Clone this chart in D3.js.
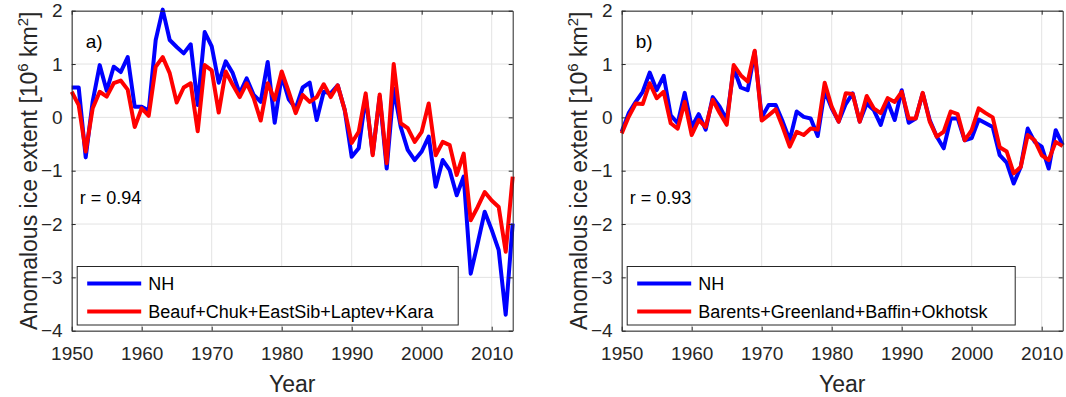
<!DOCTYPE html>
<html>
<head>
<meta charset="utf-8">
<script src="https://cdn.jsdelivr.net/npm/d3@7"></script>
<style>
  body { margin: 0; background: #fff; }
  text { font-family: "Liberation Sans", Arial, Helvetica, sans-serif; }
</style>
</head>
<body>
<div id="chart"></div>
<script>
// years 1950..2013
var years = d3.range(1950, 2014);

var nhLeft = [0.56, 0.56, -0.75, 0.30, 0.98, 0.50, 0.95, 0.85, 1.13, 0.20,
  0.20, 0.13, 1.45, 2.02, 1.45, 1.32, 1.20, 1.37, 0.23, 1.60,
  1.33, 0.65, 1.05, 0.83, 0.45, 0.73, 0.42, 0.29, 1.04, -0.10,
  0.78, 0.34, 0.17, 0.56, 0.65, -0.05, 0.48, 0.45, 0.60, 0.14,
  -0.74, -0.58, 0.39, -0.68, 0.39, -0.96, 0.54, -0.18, -0.61, -0.80,
  -0.64, -0.36, -1.30, -0.80, -0.99, -1.46, -1.11, -2.93, -2.36, -1.77,
  -2.11, -2.49, -3.70, -1.99];

var pacificSeas = [0.48, 0.23, -0.64, 0.17, 0.48, 0.39, 0.64, 0.69, 0.52, -0.18,
  0.17, 0.03, 0.95, 1.13, 0.83, 0.28, 0.56, 0.64, -0.26, 0.98,
  0.88, 0.09, 0.86, 0.61, 0.38, 0.64, 0.36, -0.06, 0.64, 0.33,
  0.86, 0.48, 0.08, 0.42, 0.29, 0.38, 0.62, 0.38, 0.60, 0.14,
  -0.48, -0.27, 0.45, -0.71, 0.43, -0.86, 1.00, -0.11, -0.20, -0.46,
  -0.27, 0.26, -0.71, -0.46, -0.52, -1.08, -0.68, -1.93, -1.68, -1.40,
  -1.56, -1.68, -2.52, -1.11];

var nhRight = [-0.27, 0.08, 0.29, 0.48, 0.84, 0.51, 0.78, 0.04, -0.11, 0.46,
  -0.18, 0.06, -0.23, 0.38, 0.20, -0.05, 0.92, 0.56, 0.51, 1.23,
  0.00, 0.23, 0.23, -0.08, -0.43, 0.11, 0.01, -0.02, -0.35, 0.50,
  0.17, -0.08, 0.25, 0.45, -0.08, 0.26, 0.14, -0.14, 0.29, -0.05,
  0.51, -0.10, -0.02, 0.45, -0.05, -0.36, -0.58, -0.02, -0.02, -0.43,
  -0.39, -0.04, -0.11, -0.18, -0.71, -0.85, -1.24, -0.93, -0.21, -0.46,
  -0.55, -0.96, -0.24, -0.52];

var atlanticSeas = [-0.30, 0.01, 0.26, 0.25, 0.64, 0.36, 0.48, -0.11, -0.21, 0.29,
  -0.33, -0.05, -0.18, 0.33, 0.08, -0.14, 0.98, 0.79, 0.67, 1.25,
  -0.06, 0.04, 0.15, -0.18, -0.55, -0.27, -0.33, -0.21, -0.23, 0.65,
  0.20, -0.08, 0.45, 0.44, -0.08, 0.40, 0.17, 0.08, 0.36, 0.29,
  0.48, -0.02, -0.02, 0.46, -0.08, -0.36, -0.27, 0.11, 0.06, -0.43,
  -0.24, 0.17, 0.08, 0.00, -0.56, -0.64, -1.05, -0.93, -0.33, -0.43,
  -0.71, -0.80, -0.46, -0.54];

var xTicks = [1950, 1960, 1970, 1980, 1990, 2000, 2010];
var yTicks = [-4, -3, -2, -1, 0, 1, 2];

var panels = [
  {left: 71.7, tag: "a)", r: "r = 0.94", nh: nhLeft, sub: pacificSeas,
   subName: "Beauf+Chuk+EastSib+Laptev+Kara", legendW: 381},
  {left: 621.7, tag: "b)", r: "r = 0.93", nh: nhRight, sub: atlanticSeas,
   subName: "Barents+Greenland+Baffin+Okhotsk", legendW: 388}
];

var svgWidth = 1066, svgHeight = 397;
var plotW = 441, plotTop = 10.7, plotBottom = 330.7;
var axisColor = "#262626";

var svg = d3.select("#chart").append("svg")
  .attr("width", svgWidth)
  .attr("height", svgHeight);

function drawPanel(p) {
  var x = d3.scaleLinear().domain([1950, 2013]).range([p.left, p.left + plotW]);
  var y = d3.scaleLinear().domain([-4, 2]).range([plotBottom, plotTop]);
  var g = svg.append("g");

  // grid
  g.selectAll(".gx").data(xTicks).enter().append("line")
    .attr("x1", function(d) { return x(d); }).attr("x2", function(d) { return x(d); })
    .attr("y1", plotTop).attr("y2", plotBottom)
    .style("stroke", "#e3e3e3").style("stroke-width", 1);
  g.selectAll(".gy").data(yTicks).enter().append("line")
    .attr("y1", function(d) { return y(d); }).attr("y2", function(d) { return y(d); })
    .attr("x1", p.left).attr("x2", p.left + plotW)
    .style("stroke", "#e3e3e3").style("stroke-width", 1);

  // series
  var line = d3.line()
    .x(function(d, i) { return x(years[i]); })
    .y(function(d) { return y(d); });
  g.append("path").datum(p.nh).attr("d", line)
    .style("fill", "none").style("stroke", "#0000ff").style("stroke-width", 4)
    .style("stroke-linejoin", "round");
  g.append("path").datum(p.sub).attr("d", line)
    .style("fill", "none").style("stroke", "#ff0000").style("stroke-width", 4)
    .style("stroke-linejoin", "round");

  // axes (ticks inward, box on)
  var axB = g.append("g").attr("transform", "translate(0," + plotBottom + ")")
    .call(d3.axisBottom(x).tickValues(xTicks).tickFormat(d3.format("d")).tickSizeInner(-4).tickSizeOuter(0).tickPadding(16));
  var axT = g.append("g").attr("transform", "translate(0," + plotTop + ")")
    .call(d3.axisTop(x).tickValues(xTicks).tickFormat("").tickSizeInner(-4).tickSizeOuter(0));
  var axL = g.append("g").attr("transform", "translate(" + p.left + ",0)")
    .call(d3.axisLeft(y).tickValues(yTicks).tickFormat(d3.format("d")).tickSizeInner(-4).tickSizeOuter(0).tickPadding(9));
  var axR = g.append("g").attr("transform", "translate(" + (p.left + plotW) + ",0)")
    .call(d3.axisRight(y).tickValues(yTicks).tickFormat("").tickSizeInner(-4).tickSizeOuter(0));
  [axB, axT, axL, axR].forEach(function(a) {
    a.selectAll("path, line").style("stroke", axisColor);
    a.selectAll("text").style("fill", axisColor).style("font-size", "19px");
  });

  // labels in plot
  g.append("text").attr("x", p.left + 14).attr("y", 48).text(p.tag)
    .style("font-size", "19px").style("fill", "#000");
  g.append("text").attr("x", p.left + 8).attr("y", 204).text(p.r)
    .style("font-size", "18px").style("fill", "#000");

  // legend
  var lx = p.left + 5.5, ly = 266.5;
  var leg = g.append("g");
  leg.append("rect").attr("x", lx).attr("y", ly).attr("width", p.legendW).attr("height", 58.5)
    .style("fill", "#fff").style("stroke", axisColor).style("stroke-width", 1);
  var items = [{name: "NH", color: "#0000ff"}, {name: p.subName, color: "#ff0000"}];
  items.forEach(function(it, i) {
    var yy = ly + 17 + i * 28;
    leg.append("line").attr("x1", lx + 10).attr("x2", lx + 64).attr("y1", yy).attr("y2", yy)
      .style("stroke", it.color).style("stroke-width", 4);
    leg.append("text").attr("x", lx + 71).attr("y", yy + 6.5).text(it.name)
      .style("font-size", "18px").style("fill", "#000");
  });

  // axis titles
  g.append("text").attr("x", x(1981.5)).attr("y", 392)
    .attr("text-anchor", "middle").text("Year")
    .style("font-size", "23px").style("fill", axisColor);
  var yl = g.append("text")
    .attr("transform", "translate(" + (p.left - 34.5) + "," + ((plotTop + plotBottom) / 2) + ") rotate(-90)")
    .attr("text-anchor", "middle")
    .style("font-size", "23px").style("fill", axisColor);
  yl.append("tspan").text("Anomalous ice extent [10");
  yl.append("tspan").attr("dy", -9).style("font-size", "15px").text("6");
  yl.append("tspan").attr("dy", 9).text(" km");
  yl.append("tspan").attr("dy", -9).style("font-size", "15px").text("2");
  yl.append("tspan").attr("dy", 9).text("]");
}

panels.forEach(drawPanel);
</script>
</body>
</html>
